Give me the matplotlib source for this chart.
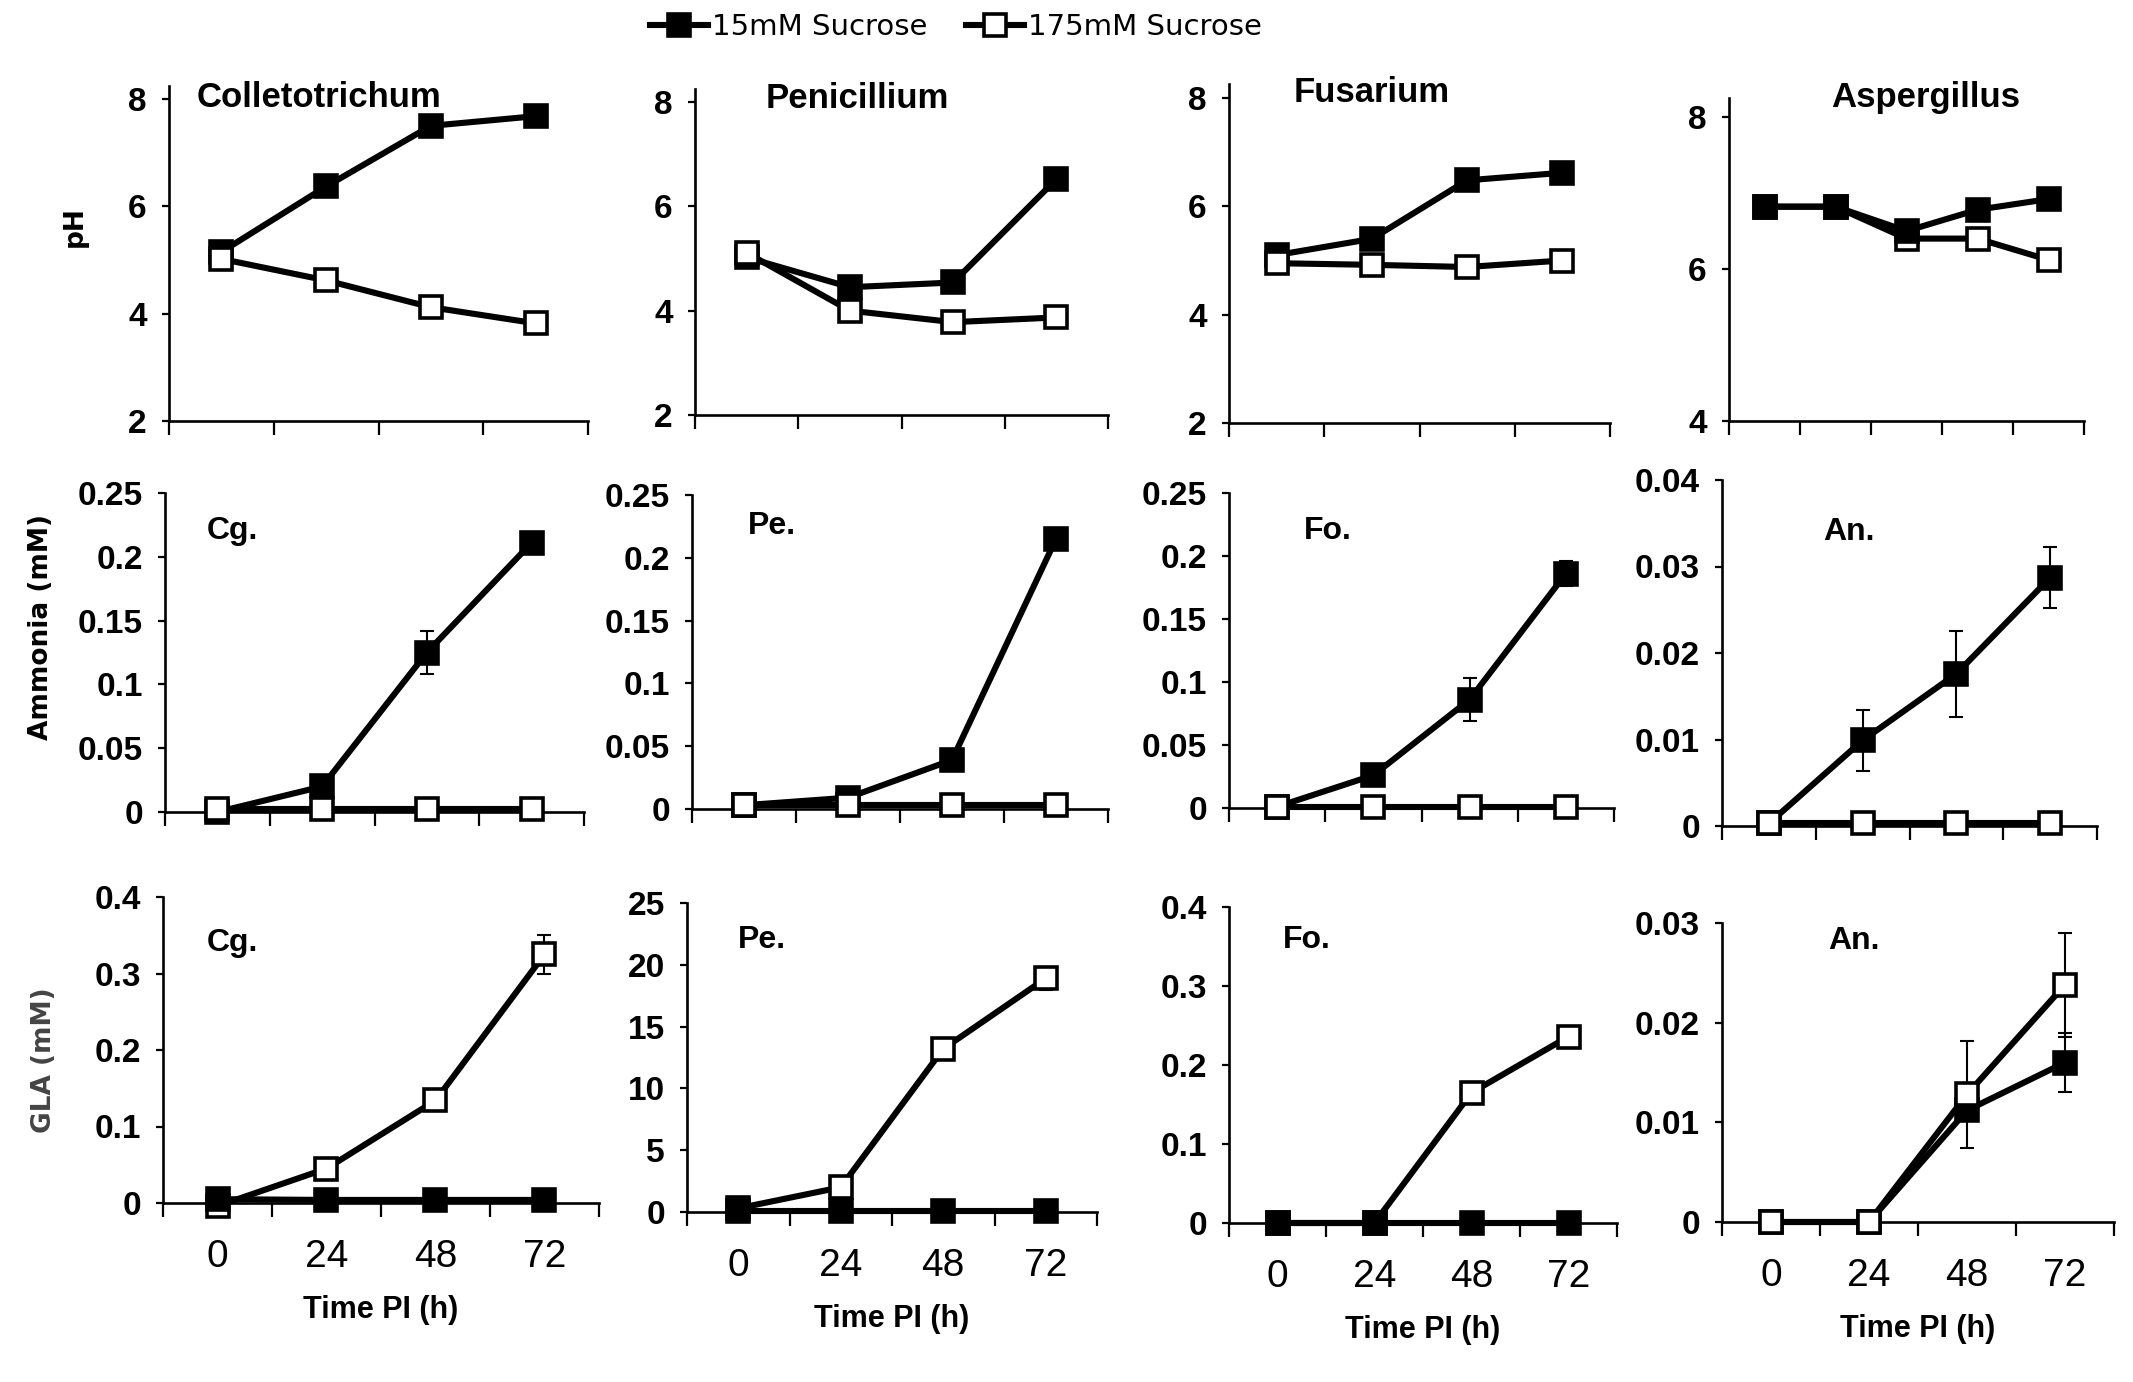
import matplotlib
matplotlib.use('Agg')
import matplotlib.pyplot as plt
from matplotlib import font_manager as fm
from matplotlib.ticker import FuncFormatter

# ---- data ----
time_labels = ['0', '24', '48', '72']
legend_labels = ['15mM Sucrose', '175mM Sucrose']

# pH
ph_cg_15 = [5.15, 6.37, 7.50, 7.68]
ph_cg_175 = [5.02, 4.62, 4.12, 3.82]
ph_pe_15 = [5.02, 4.45, 4.54, 6.52]
ph_pe_175 = [5.11, 4.00, 3.78, 3.87]
ph_fo_15 = [5.10, 5.40, 6.48, 6.62]
ph_fo_175 = [4.95, 4.92, 4.88, 5.00]
ph_an_15 = [6.82, 6.82, 6.50, 6.78, 6.92]
ph_an_175 = [6.82, 6.82, 6.40, 6.40, 6.12]

# Ammonia (mM)
amm_cg_15 = [0.000, 0.020, 0.125, 0.211]
amm_cg_15_err = [0, 0, 0.017, 0]
amm_cg_175 = [0.002, 0.002, 0.002, 0.002]
amm_pe_15 = [0.003, 0.009, 0.039, 0.215]
amm_pe_15_err = [0, 0, 0, 0.005]
amm_pe_175 = [0.003, 0.003, 0.003, 0.003]
amm_fo_15 = [0.001, 0.026, 0.086, 0.186]
amm_fo_15_err = [0, 0, 0.017, 0.010]
amm_fo_175 = [0.001, 0.001, 0.001, 0.001]
amm_an_15 = [0.0003, 0.0099, 0.0176, 0.0287]
amm_an_15_err = [0, 0.0035, 0.0050, 0.0035]
amm_an_175 = [0.0004, 0.0004, 0.0004, 0.0004]

# GLA (mM)
gla_cg_15 = [0.005, 0.004, 0.004, 0.004]
gla_cg_175 = [-0.004, 0.045, 0.134, 0.325]
gla_cg_175_err = [0, 0, 0, 0.025]
gla_pe_15 = [0.1, 0.1, 0.1, 0.1]
gla_pe_175 = [0.3, 2.0, 13.2, 18.9]
gla_pe_175_err = [0, 0, 0.6, 0.9]
gla_fo_15 = [0.0, 0.0, 0.0, 0.0]
gla_fo_175 = [0.0, 0.0, 0.165, 0.236]
gla_an_15 = [0.0, 0.0, 0.0112, 0.0160]
gla_an_15_err = [0, 0, 0.0005, 0.0030]
gla_an_175 = [0.0, 0.0, 0.0128, 0.0238]
gla_an_175_err = [0, 0, 0.0054, 0.0052]


def pick(*names):
    for n in names:
        try:
            fm.findfont(fm.FontProperties(family=n), fallback_to_default=False)
            return n
        except ValueError:
            pass
    return 'DejaVu Sans'


narrow = pick('Liberation Sans Narrow', 'Liberation Sans')
arial = pick('Liberation Sans', 'DejaVu Sans')

W, H = 2133, 1382
fig = plt.figure(figsize=(W / 100, H / 100), dpi=100)


def panel(x0, x1, ya, va, yb, vb, ylim):
    # place axes so that value va sits at pixel ya and vb at pixel yb
    s = (ya - yb) / (vb - va)
    bot = ya + (va - ylim[0]) * s
    top = ya - (ylim[1] - va) * s
    ax = fig.add_axes([x0 / W, 1 - bot / H, (x1 - x0) / W, (bot - top) / H])
    ax.set_ylim(*ylim)
    return ax


def draw(ax, low, high, yticks, title, tx, ty, tsize=23,
         low_err=None, high_err=None, white_on_top=True, xlabels=False):
    n = len(low)
    x = [i + 0.5 for i in range(n)]
    ax.set_xlim(0, n)
    z_low, z_high = (3, 4) if white_on_top else (4, 3)
    for y, err, face, z in [(low, low_err, 'black', z_low),
                            (high, high_err, 'white', z_high)]:
        if err is not None:
            ax.errorbar(x, y, yerr=err, fmt='none', ecolor='black',
                        elinewidth=1.5, capsize=5, capthick=1.5,
                        zorder=2, clip_on=False)
        ax.plot(x, y, color='black', lw=4.4, marker='s', ms=16.5,
                mfc=face, mec='black', mew=2.6, zorder=z, clip_on=False)
    for s in ['top', 'right']:
        ax.spines[s].set_visible(False)
    for s in ['left', 'bottom']:
        ax.spines[s].set_linewidth(1.9)
    ax.set_yticks(yticks)
    ax.yaxis.set_major_formatter(FuncFormatter(lambda v, p: f'{v:g}'))
    ax.tick_params(axis='y', direction='out', length=5, width=1.6, pad=11)
    for lab in ax.get_yticklabels():
        lab.set_fontfamily(arial)
        lab.set_fontweight('bold')
        lab.set_fontsize(24)
    ax.set_xticks(range(n + 1))
    ax.set_xticklabels([])
    ax.tick_params(axis='x', which='major', direction='out', length=10, width=1.6)
    if xlabels:
        ax.set_xticks(x, time_labels, minor=True)
        ax.tick_params(axis='x', which='minor', length=0, pad=26)
        for lab in ax.get_xticklabels(minor=True):
            lab.set_fontfamily(narrow)
            lab.set_fontsize(28)
        ax.set_xlabel('Time PI (h)', fontfamily=narrow, fontweight='bold',
                      fontsize=22, labelpad=14)
    ax.text(tx, ty, title, transform=ax.transAxes, ha='left', va='center',
            fontfamily=arial, fontweight='bold', fontsize=tsize)
    ax.patch.set_alpha(0)


# row 1: pH
ax = panel(169, 588, 421, 2, 99, 8, (2, 8.25))
draw(ax, ph_cg_15, ph_cg_175, [2, 4, 6, 8], 'Colletotrichum', 0.067, 0.965, tsize=25)
ax_leg = ax
ax = panel(695, 1108, 415, 2, 102, 8, (2, 8.25))
draw(ax, ph_pe_15, ph_pe_175, [2, 4, 6, 8], 'Penicillium', 0.17, 0.97, tsize=25)
ax = panel(1229, 1610, 423, 2, 98, 8, (2, 8.25))
draw(ax, ph_fo_15, ph_fo_175, [2, 4, 6, 8], 'Fusarium', 0.17, 0.975, tsize=25)
ax = panel(1729, 2084, 421, 4, 117, 8, (4, 8.25))
draw(ax, ph_an_15, ph_an_175, [4, 6, 8], 'Aspergillus', 0.287, 1.0, tsize=25,
     white_on_top=False)

# row 2: ammonia
ax = panel(165, 584, 812, 0, 493, 0.25, (0, 0.25))
draw(ax, amm_cg_15, amm_cg_175, [0, 0.05, 0.1, 0.15, 0.2, 0.25], 'Cg.', 0.1, 0.88,
     low_err=amm_cg_15_err)
ax = panel(692, 1108, 809, 0, 495, 0.25, (0, 0.25))
draw(ax, amm_pe_15, amm_pe_175, [0, 0.05, 0.1, 0.15, 0.2, 0.25], 'Pe.', 0.135, 0.9,
     low_err=amm_pe_15_err)
ax = panel(1229, 1614, 808, 0, 493, 0.25, (0, 0.25))
draw(ax, amm_fo_15, amm_fo_175, [0, 0.05, 0.1, 0.15, 0.2, 0.25], 'Fo.', 0.195, 0.88,
     low_err=amm_fo_15_err)
ax = panel(1722, 2097, 826, 0, 480, 0.04, (0, 0.04))
draw(ax, amm_an_15, amm_an_175, [0, 0.01, 0.02, 0.03, 0.04], 'An.', 0.27, 0.85,
     low_err=amm_an_15_err)

# row 3: GLA
ax = panel(163, 599, 1203, 0, 897, 0.4, (0, 0.4))
draw(ax, gla_cg_15, gla_cg_175, [0, 0.1, 0.2, 0.3, 0.4], 'Cg.', 0.1, 0.85,
     high_err=gla_cg_175_err, white_on_top=False, xlabels=True)
ax = panel(687, 1097, 1212, 0, 903, 25, (0, 25))
draw(ax, gla_pe_15, gla_pe_175, [0, 5, 10, 15, 20, 25], 'Pe.', 0.125, 0.88,
     high_err=gla_pe_175_err, white_on_top=False, xlabels=True)
ax = panel(1229, 1617, 1223, 0, 907, 0.4, (0, 0.4))
draw(ax, gla_fo_15, gla_fo_175, [0, 0.1, 0.2, 0.3, 0.4], 'Fo.', 0.14, 0.895,
     white_on_top=False, xlabels=True)
ax = panel(1722, 2114, 1222, 0, 923, 0.03, (0, 0.03))
draw(ax, gla_an_15, gla_an_175, [0, 0.01, 0.02, 0.03], 'An.', 0.27, 0.94,
     low_err=gla_an_15_err, high_err=gla_an_175_err, xlabels=True)

# y-axis labels on the left
fig.text(75 / W, 1 - 227 / H, 'pH', rotation=90, ha='center', va='center',
         fontfamily='DejaVu Sans', fontweight='bold', fontsize=19)
fig.text(41 / W, 1 - 627 / H, 'Ammonia (mM)', rotation=90, ha='center', va='center',
         fontfamily='DejaVu Sans', fontweight='bold', fontsize=19)
fig.text(44 / W, 1 - 1060 / H, 'GLA (mM)', rotation=90, ha='center', va='center',
         fontfamily='DejaVu Sans', fontweight='bold', fontsize=19, color='#444444')

handles = ax_leg.get_lines()
fig.legend(handles[:2], legend_labels, loc='center', bbox_to_anchor=(956 / W, 1 - 27 / H),
           ncol=2, frameon=False, handlelength=2.0, handletextpad=0.15,
           columnspacing=1.3, prop={'family': 'DejaVu Sans', 'size': 21})

fig.savefig('out.png', dpi=100)
